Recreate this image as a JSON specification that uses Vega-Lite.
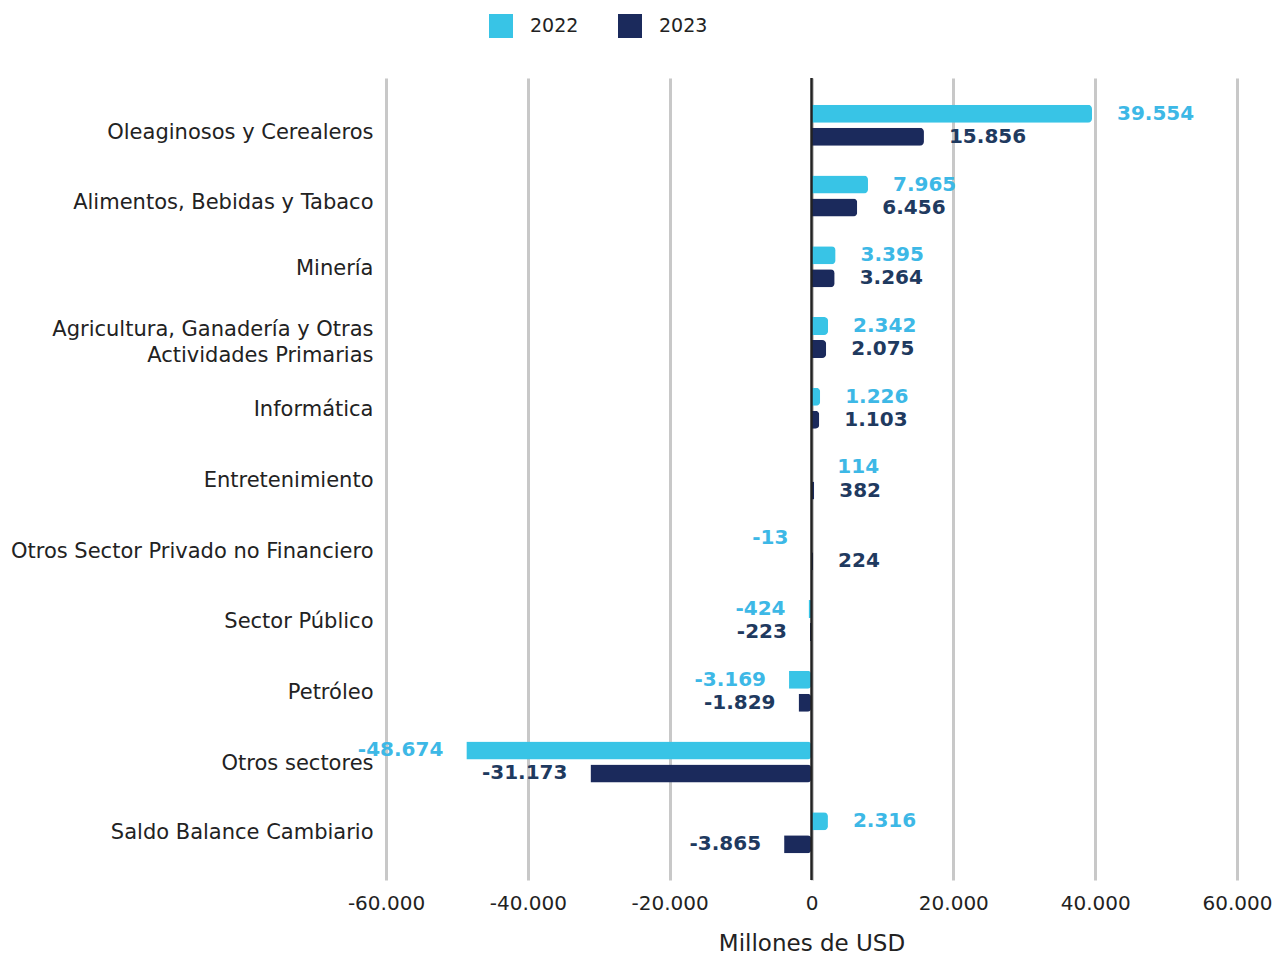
{
  "$schema": "https://vega.github.io/schema/vega-lite/v6.json",
  "width": 851,
  "height": 802,
  "autosize": {"type": "none"},
  "padding": {"left": 386, "top": 78, "right": 46, "bottom": 74},
  "background": "white",
  "config": {
    "locale": {"number": {"decimal": ",", "thousands": ".", "grouping": [3], "currency": ["$", ""], "minus": "-"}},
    "view": {"stroke": null},
    "font": "DejaVu Sans"
  },
  "data": {
    "values": [
      {"sector": "Oleaginosos y Cerealeros", "year": "2022", "value": 39554},
      {"sector": "Oleaginosos y Cerealeros", "year": "2023", "value": 15856},
      {"sector": "Alimentos, Bebidas y Tabaco", "year": "2022", "value": 7965},
      {"sector": "Alimentos, Bebidas y Tabaco", "year": "2023", "value": 6456},
      {"sector": "Minería", "year": "2022", "value": 3395},
      {"sector": "Minería", "year": "2023", "value": 3264},
      {"sector": "Agricultura, Ganadería y Otras Actividades Primarias", "year": "2022", "value": 2342},
      {"sector": "Agricultura, Ganadería y Otras Actividades Primarias", "year": "2023", "value": 2075},
      {"sector": "Informática", "year": "2022", "value": 1226},
      {"sector": "Informática", "year": "2023", "value": 1103},
      {"sector": "Entretenimiento", "year": "2022", "value": 114},
      {"sector": "Entretenimiento", "year": "2023", "value": 382},
      {"sector": "Otros Sector Privado no Financiero", "year": "2022", "value": -13},
      {"sector": "Otros Sector Privado no Financiero", "year": "2023", "value": 224},
      {"sector": "Sector Público", "year": "2022", "value": -424},
      {"sector": "Sector Público", "year": "2023", "value": -223},
      {"sector": "Petróleo", "year": "2022", "value": -3169},
      {"sector": "Petróleo", "year": "2023", "value": -1829},
      {"sector": "Otros sectores", "year": "2022", "value": -48674},
      {"sector": "Otros sectores", "year": "2023", "value": -31173},
      {"sector": "Saldo Balance Cambiario", "year": "2022", "value": 2316},
      {"sector": "Saldo Balance Cambiario", "year": "2023", "value": -3865}
    ]
  },
  "layer": [
    {
      "mark": {"type": "bar", "cornerRadiusEnd": 4},
      "encoding": {
        "y": {
          "field": "sector", "type": "nominal", "sort": null,
          "scale": {"paddingInner": 0.42, "paddingOuter": 0.378},
          "axis": {
            "title": null, "domain": false, "ticks": false, "grid": false,
            "labelFontSize": 21, "labelPadding": 13, "labelColor": "#222222", "labelLimit": 420, "labelLineHeight": 26,
            "labelOffset": {
              "condition": [
                {"test": "datum.value == 'Agricultura, Ganadería y Otras Actividades Primarias'", "value": -8},
                {"test": "datum.value == 'Oleaginosos y Cerealeros'", "value": 8},
                {"test": "datum.value == 'Alimentos, Bebidas y Tabaco'", "value": 7},
                {"test": "datum.value == 'Saldo Balance Cambiario'", "value": 0}
              ],
              "value": 2
            },
            "labelExpr": "datum.value == 'Agricultura, Ganadería y Otras Actividades Primarias' ? ['Agricultura, Ganadería y Otras', 'Actividades Primarias'] : datum.value"
          }
        },
        "yOffset": {"field": "year", "type": "nominal", "scale": {"paddingInner": 0.217, "paddingOuter": 0}},
        "x": {
          "field": "value", "type": "quantitative",
          "scale": {"domain": [-60000, 60000], "nice": false},
          "axis": {
            "values": [-60000, -40000, -20000, 0, 20000, 40000, 60000],
            "format": ",.0f", "grid": true, "gridColor": "#c8c8c8", "gridWidth": 3,
            "domain": false, "ticks": false, "labelFlush": false, "labelPadding": 13, "labelFontSize": 20, "labelColor": "#222222",
            "title": "Millones de USD", "titleFontSize": 23, "titleFontWeight": "normal", "titleColor": "#222222", "titlePadding": 19
          }
        },
        "color": {
          "field": "year", "type": "nominal",
          "scale": {"domain": ["2022", "2023"], "range": ["#38c4e6", "#1b2a5c"]},
          "legend": {
            "title": null, "orient": "none", "legendX": 103, "legendY": -64, "direction": "horizontal",
            "symbolType": "square", "symbolSize": 576, "symbolStrokeWidth": 0, "labelFontSize": 19,
            "labelColor": "#222222", "columnPadding": 39, "labelOffset": 17
          }
        }
      }
    },
    {
      "transform": [{"filter": "datum.value >= 0"}],
      "mark": {"type": "text", "align": "left", "baseline": "middle", "dx": 25, "fontWeight": "bold", "fontSize": 20, "font": "DejaVu Sans"},
      "encoding": {
        "y": {"field": "sector", "type": "nominal", "sort": null},
        "yOffset": {"field": "year", "type": "nominal"},
        "x": {"field": "value", "type": "quantitative"},
        "text": {"field": "value", "type": "quantitative", "format": ",.0f"},
        "color": {"condition": {"test": "datum.year == '2022'", "value": "#3db8e6"}, "value": "#1f3a5f"}
      }
    },
    {
      "transform": [{"filter": "datum.value < 0"}],
      "mark": {"type": "text", "align": "right", "baseline": "middle", "dx": -23, "fontWeight": "bold", "fontSize": 20, "font": "DejaVu Sans"},
      "encoding": {
        "y": {"field": "sector", "type": "nominal", "sort": null},
        "yOffset": {"field": "year", "type": "nominal"},
        "x": {"field": "value", "type": "quantitative"},
        "text": {"field": "value", "type": "quantitative", "format": ",.0f"},
        "color": {"condition": {"test": "datum.year == '2022'", "value": "#3db8e6"}, "value": "#1f3a5f"}
      }
    },
    {
      "data": {"values": [{"zero": 0}]},
      "mark": {"type": "rule", "color": "#222222", "strokeWidth": 2.5},
      "encoding": {"x": {"field": "zero", "type": "quantitative"}}
    }
  ]
}
